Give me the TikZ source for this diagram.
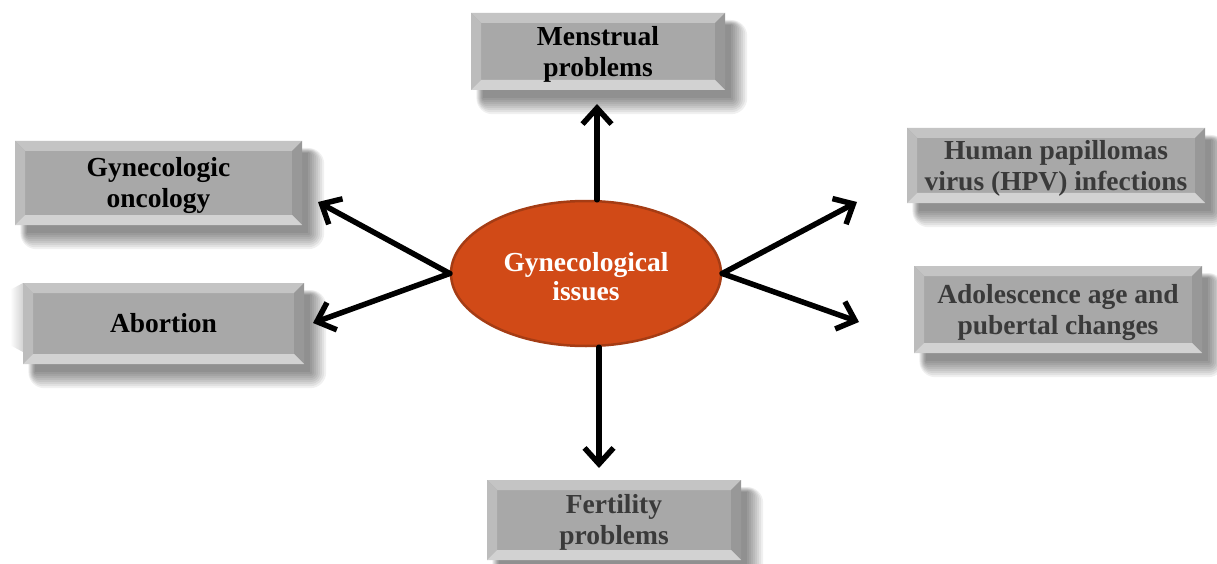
\documentclass[tikz,border=0pt]{standalone}
\usepackage{fontspec}
\setmainfont{Liberation Serif}
\usetikzlibrary{arrows.meta,backgrounds,shapes.geometric}

\definecolor{boxfill}{HTML}{A8A8A8}
\definecolor{bevtop}{HTML}{C4C4C4}
\definecolor{bevleft}{HTML}{BCBCBC}
\definecolor{bevright}{HTML}{989898}
\definecolor{bevbot}{HTML}{D2D2D2}
\definecolor{ellfill}{HTML}{D14A17}
\definecolor{elldraw}{HTML}{A53C14}
\definecolor{darktext}{HTML}{3A3A3A}

\newcommand\mybevels{%
  \fill[bevtop] (path picture bounding box.north west) -- (path picture bounding box.north east)
    -- ([shift={(-10pt,-10pt)}]path picture bounding box.north east) -- ([shift={(10pt,-10pt)}]path picture bounding box.north west) -- cycle;
  \fill[bevleft] (path picture bounding box.north west) -- (path picture bounding box.south west)
    -- ([shift={(10pt,10pt)}]path picture bounding box.south west) -- ([shift={(10pt,-10pt)}]path picture bounding box.north west) -- cycle;
  \fill[bevright] (path picture bounding box.north east) -- (path picture bounding box.south east)
    -- ([shift={(-10pt,10pt)}]path picture bounding box.south east) -- ([shift={(-10pt,-10pt)}]path picture bounding box.north east) -- cycle;
  \fill[bevbot] (path picture bounding box.south west) -- (path picture bounding box.south east)
    -- ([shift={(-10pt,10pt)}]path picture bounding box.south east) -- ([shift={(10pt,10pt)}]path picture bounding box.south west) -- cycle;
}

% soft shadow behind a named box, offset down-right
\newcommand\softshadow[1]{%
  \foreach \r in {0,2,...,16}{
    \fill[black, opacity=0.06, rounded corners=\r pt]
      ([shift={(12pt-0.4*\r pt,-12pt+0.3*\r pt)}]#1.north west) rectangle ([shift={(6pt+\r pt,-8pt-\r pt)}]#1.south east);
  }%
}
% lower the lines of a label a little
\newcommand\lbl[2]{\raisebox{0pt}[\dimexpr\height+#1\relax]{\begin{tabular}{@{}c@{}}#2\end{tabular}}}

\tikzset{
  bevelbox/.style={rectangle, fill=boxfill, inner sep=0pt,
    font=\bfseries\fontsize{27.5}{31}\selectfont,
    path picture={\mybevels}},
  darkbox/.style={bevelbox, text=darktext},
  blackbox/.style={bevelbox, text=black},
  arr/.style={line width=5.5pt, line cap=round, line join=round,
    -{Straight Barb[length=16pt,width=29pt]}},
  center/.style={ellipse, fill=ellfill, draw=elldraw, line width=2.5pt,
    minimum width=270pt, minimum height=145pt, inner sep=0pt,
    text=white, font=\bfseries\fontsize{27.5}{31}\selectfont},
}

\begin{document}
\begin{tikzpicture}[x=1pt,y=-1pt]
\useasboundingbox (0,0) rectangle (1217,564);

\node[blackbox, minimum width=254pt, minimum height=77pt] (menst) at (598,51.5) {\lbl{6pt}{Menstrual\\problems}};
\node[blackbox, minimum width=287pt, minimum height=84pt] (onco) at (158.5,183) {\lbl{6pt}{Gynecologic\\oncology}};
\node[blackbox, minimum width=281pt, minimum height=81pt] (abort) at (163.5,323.5) {\lbl{6pt}{Abortion}};
\node[darkbox, minimum width=298pt, minimum height=75pt] (hpv) at (1056,165.5) {\lbl{6pt}{Human papillomas\\virus (HPV) infections}};
\node[darkbox, minimum width=288pt, minimum height=87pt] (adol) at (1058,309.5) {\lbl{6pt}{Adolescence age and\\pubertal changes}};
\node[darkbox, minimum width=254pt, minimum height=80pt] (fert) at (614,520) {\lbl{6pt}{Fertility\\problems}};

\begin{scope}[on background layer]
  \fill[white] (0,0) rectangle (1217,564);
  % faint ghost edge left of Abortion
  \shade[left color=white, right color=gray!35] (10,290) -- (23,283) -- (23,352) -- (10,345) -- cycle;
  \softshadow{menst}
  \softshadow{onco}
  \softshadow{abort}
  \softshadow{hpv}
  \softshadow{adol}
  \softshadow{fert}
\end{scope}

\node[center] (ell) at (586,273.5) {\raisebox{0pt}[\dimexpr\height+12pt\relax]{\begin{tabular}{@{}c@{}}Gynecological\\[-2pt]issues\end{tabular}}};

\coordinate (tu) at (597,104);
\coordinate (td) at (599,468);
\coordinate (tlu) at (318,202);
\coordinate (tld) at (313,323);
\coordinate (tru) at (857,202);
\coordinate (trd) at (859,322);

\draw[arr] (tu |- ell.north) -- (tu);
\draw[arr] (td |- ell.south) -- (td);
\draw[arr] (ell.west) -- (tlu);
\draw[arr] (ell.west) -- (tld);
\draw[arr] (ell.east) -- (tru);
\draw[arr] (ell.east) -- (trd);
\end{tikzpicture}
\end{document}
